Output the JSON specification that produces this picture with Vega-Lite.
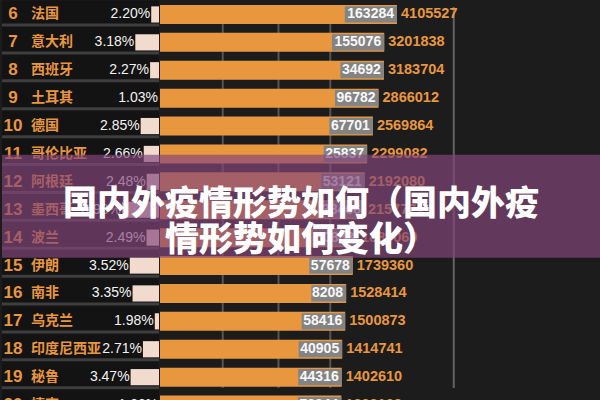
{
  "$schema": "https://vega.github.io/schema/vega-lite/v6.json",
  "width": 600,
  "height": 400,
  "autosize": {"type": "fit", "contains": "padding"},
  "padding": 0,
  "background": "#1c1c1c",
  "config": {"view": {"stroke": null}, "axis": {"disable": true}},
  "datasets": {
    "rows": [
      {"rank": 6, "country": "法国", "rate": 0.0220, "deaths": 163284, "confirmed": 4105527},
      {"rank": 7, "country": "意大利", "rate": 0.0318, "deaths": 155076, "confirmed": 3201838},
      {"rank": 8, "country": "西班牙", "rate": 0.0227, "deaths": 34692, "confirmed": 3183704},
      {"rank": 9, "country": "土耳其", "rate": 0.0103, "deaths": 96782, "confirmed": 2866012},
      {"rank": 10, "country": "德国", "rate": 0.0285, "deaths": 67701, "confirmed": 2569864},
      {"rank": 11, "country": "哥伦比亚", "rate": 0.0266, "deaths": 25837, "confirmed": 2299082},
      {"rank": 12, "country": "阿根廷", "rate": 0.0248, "deaths": 53121, "confirmed": 2192080},
      {"rank": 13, "country": "墨西哥", "rate": 0.0898, "deaths": 38466, "confirmed": 2157771},
      {"rank": 14, "country": "波兰", "rate": 0.0249, "deaths": 50883, "confirmed": 1889060},
      {"rank": 15, "country": "伊朗", "rate": 0.0352, "deaths": 57678, "confirmed": 1739360},
      {"rank": 16, "country": "南非", "rate": 0.0335, "deaths": 8208, "confirmed": 1528414},
      {"rank": 17, "country": "乌克兰", "rate": 0.0198, "deaths": 58416, "confirmed": 1500873},
      {"rank": 18, "country": "印度尼西亚", "rate": 0.0271, "deaths": 40905, "confirmed": 1414741},
      {"rank": 19, "country": "秘鲁", "rate": 0.0347, "deaths": 44316, "confirmed": 1402610},
      {"rank": 20, "country": "捷克", "rate": 0.0166, "deaths": 79944, "confirmed": 1392108}
    ],
    "grid": [{"v": 138900}, {"v": 410550}, {"v": 1122900}, {"v": 12370000}],
    "banner": [{"rank": 13, "title": ["国内外疫情形势如何（国内外疫", "情形势如何变化）"]}]
  },
  "data": {"name": "rows"},
  "resolve": {"scale": {"x": "independent"}},
  "layer": [
    {
      "layer": [
        {
          "mark": {"type": "bar", "color": "#131313", "height": {"band": 1}},
          "encoding": {
            "y": {"field": "rank", "type": "ordinal", "axis": null,
                  "scale": {"domain": [6,7,8,9,10,11,12,13,14,15,16,17,18,19,20], "range": [-6.5, 412], "paddingInner": 0, "paddingOuter": 0}},
            "x": {"datum": 0.0172, "type": "quantitative", "axis": null,
                  "scale": {"domain": [0.0172, 0.04], "range": [157, 120], "clamp": true, "zero": false, "nice": false}},
            "x2": {"value": 0}
          }
        },
        {
          "mark": {"type": "rule", "color": "#3e3e3e", "strokeWidth": 3},
          "encoding": {
            "y": {"field": "rank", "type": "ordinal", "axis": null, "bandPosition": 0.88},
            "x": {"datum": 0.0172, "type": "quantitative", "axis": null},
            "x2": {"value": 0}
          }
        },
        {
          "mark": {"type": "bar", "color": "#f1dbcf", "height": {"band": 0.58}},
          "encoding": {
            "y": {"field": "rank", "type": "ordinal", "axis": null},
            "x": {"field": "rate", "type": "quantitative", "axis": null},
            "x2": {"datum": 0.0172}
          }
        },
        {
          "mark": {"type": "text", "align": "right", "baseline": "middle", "dx": -1, "color": "#f2f2f2", "font": "Liberation Sans", "fontSize": 14},
          "encoding": {
            "y": {"field": "rank", "type": "ordinal", "axis": null},
            "x": {"field": "rate", "type": "quantitative", "axis": null},
            "text": {"field": "rate", "type": "quantitative", "format": ".2%"}
          }
        }
      ]
    },
    {
      "layer": [
        {
          "mark": {"type": "text", "align": "center", "baseline": "middle", "color": "#e9973f", "font": "Liberation Sans", "fontWeight": "bold", "fontSize": 17},
          "encoding": {
            "y": {"field": "rank", "type": "ordinal", "axis": null},
            "x": {"datum": "rank", "type": "nominal", "axis": null,
                  "scale": {"type": "point", "domain": ["rank", "name"], "range": [11, 29], "padding": 0}},
            "text": {"field": "rank", "type": "nominal"}
          }
        },
        {
          "mark": {"type": "text", "align": "left", "baseline": "middle", "color": "#e9973f", "font": "Noto Sans CJK SC", "fontWeight": "bold", "fontSize": 14},
          "encoding": {
            "y": {"field": "rank", "type": "ordinal", "axis": null},
            "x": {"datum": "name", "type": "nominal", "axis": null},
            "text": {"field": "country", "type": "nominal"}
          }
        }
      ]
    },
    {
      "layer": [
        {
          "data": {"name": "grid"},
          "mark": {"type": "rule", "strokeWidth": 2},
          "encoding": {
            "x": {"field": "v", "type": "quantitative", "axis": null,
                  "scale": {"type": "log", "domain": [41055, 4105527], "range": [158, 395], "nice": false}},
            "color": {"condition": {"test": "datum.v > 5000000", "value": "#626262"}, "value": "#555555"}
          }
        },
        {
          "mark": {"type": "bar", "color": "#e9973f", "height": {"band": 0.68}},
          "encoding": {
            "y": {"field": "rank", "type": "ordinal", "axis": null},
            "x": {"field": "confirmed", "type": "quantitative", "axis": null},
            "x2": {"datum": 41055}
          }
        },
        {
          "mark": {"type": "bar", "color": "#838383", "height": {"band": 0.58},
                   "xOffset": {"expr": "-length(toString(datum.deaths)) * 8.7"}},
          "encoding": {
            "y": {"field": "rank", "type": "ordinal", "axis": null},
            "x": {"field": "confirmed", "type": "quantitative", "axis": null},
            "x2": {"field": "confirmed"}
          }
        },
        {
          "mark": {"type": "text", "align": "right", "baseline": "middle", "dx": -3, "color": "#f7f7f7", "font": "Liberation Sans", "fontWeight": "bold", "fontSize": 14},
          "encoding": {
            "y": {"field": "rank", "type": "ordinal", "axis": null},
            "x": {"field": "confirmed", "type": "quantitative", "axis": null},
            "text": {"field": "deaths", "type": "nominal"}
          }
        },
        {
          "mark": {"type": "text", "align": "left", "baseline": "middle", "dx": 4, "color": "#e9973f", "font": "Liberation Sans", "fontWeight": "bold", "fontSize": 14.5},
          "encoding": {
            "y": {"field": "rank", "type": "ordinal", "axis": null},
            "x": {"field": "confirmed", "type": "quantitative", "axis": null},
            "text": {"field": "confirmed", "type": "nominal"}
          }
        }
      ]
    },
    {
      "data": {"name": "banner"},
      "mark": {"type": "bar", "color": "#83457a", "opacity": 0.68, "height": 103, "yOffset": -3.5},
      "encoding": {
        "y": {"field": "rank", "type": "ordinal", "axis": null}
      }
    },
    {
      "data": {"name": "banner"},
      "mark": {"type": "text", "align": "center", "baseline": "middle", "dy": -4.5, "lineHeight": 36, "color": "#ffffff", "font": "Noto Sans CJK SC", "fontWeight": 900, "fontSize": 34},
      "encoding": {
        "y": {"field": "rank", "type": "ordinal", "axis": null},
        "text": {"field": "title", "type": "nominal"}
      }
    }
  ]
}
